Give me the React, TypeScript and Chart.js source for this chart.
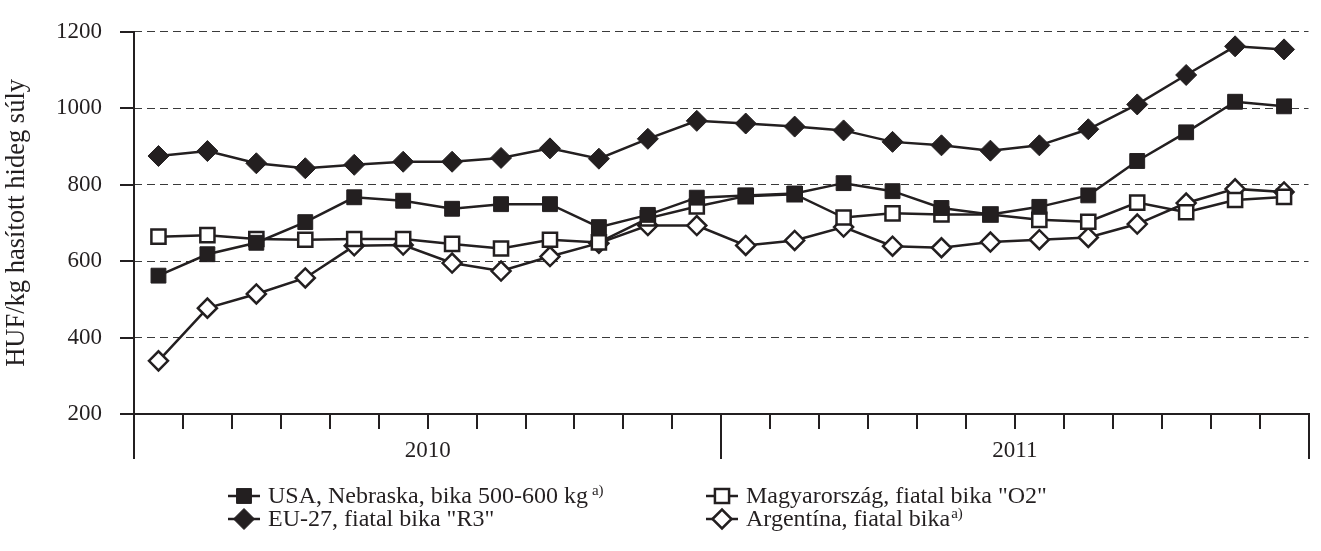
import React, { useEffect, useRef } from 'react';
import { Chart, registerables } from 'chart.js';

Chart.register(...registerables);

// ---------- data ----------
const years = ['2010', '2011'];
const months = ['I', 'II', 'III', 'IV', 'V', 'VI', 'VII', 'VIII', 'IX', 'X', 'XI', 'XII'];
const categories = years.flatMap((y) => months.map((m) => `${y}. ${m}.`));

const usaNebraska = [562, 618, 648, 702, 767, 758, 737, 749, 749, 689, 721, 766, 772, 777, 804, 783, 739, 722, 742, 772, 862, 937, 1017, 1005];
const eu27 = [875, 888, 856, 843, 852, 860, 860, 870, 895, 868, 920, 967, 960, 952, 942, 912, 903, 889, 903, 945, 1010, 1087, 1162, 1154];
const magyarorszag = [664, 668, 658, 656, 658, 658, 645, 633, 656, 649, 712, 743, 770, 775, 714, 725, 722, 722, 708, 703, 753, 728, 760, 768];
const argentina = [339, 477, 514, 556, 640, 642, 595, 574, 612, 647, 693, 693, 641, 654, 689, 639, 635, 650, 656, 662, 697, 752, 789, 781];

const seriesNames = [
  'USA, Nebraska, bika 500-600 kg',
  'EU-27, fiatal bika "R3"',
  'Magyarország, fiatal bika "O2"',
  'Argentína, fiatal bika',
];
const seriesSup = ['a)', '', '', 'a)'];

const yMin = 200;
const yMax = 1200;
const yStep = 200;
const yTitle = 'HUF/kg hasított hideg súly';

// ---------- style ----------
const INK = '#231f20';
const FONT_FAMILY = '"Liberation Serif", "Times New Roman", serif';
const tickFont = { family: FONT_FAMILY, size: 23 };
const titleFont = { family: FONT_FAMILY, size: 26.5 };

function drawMarker(ctx: CanvasRenderingContext2D, style: string, x: number, y: number, r: number, fill: string, bw: number) {
  ctx.beginPath();
  if (style === 'rect') {
    const s = Math.SQRT1_2 * r;
    ctx.rect(x - s, y - s, 2 * s, 2 * s);
  } else {
    ctx.moveTo(x - r, y);
    ctx.lineTo(x, y - r);
    ctx.lineTo(x + r, y);
    ctx.lineTo(x, y + r);
    ctx.closePath();
  }
  ctx.fillStyle = fill;
  ctx.fill();
  ctx.lineWidth = bw;
  ctx.strokeStyle = INK;
  ctx.stroke();
}

const legendPlugin = {
  id: 'bottomLegend',
  afterDraw(chart: any) {
    const ctx: CanvasRenderingContext2D = chart.ctx;
    const colX = [228, 706];
    const rowY = [496, 519];
    const place = [
      [0, 0],
      [0, 1],
      [1, 0],
      [1, 1],
    ];
    chart.data.datasets.forEach((ds: any, i: number) => {
      const [c, r] = place[i];
      const x0 = colX[c];
      const y = rowY[r];
      ctx.save();
      ctx.strokeStyle = INK;
      ctx.lineWidth = 2.5;
      ctx.beginPath();
      ctx.moveTo(x0, y);
      ctx.lineTo(x0 + 32, y);
      ctx.stroke();
      drawMarker(ctx, ds.pointStyle, x0 + 16, y, ds.pointRadius, ds.pointBackgroundColor, ds.pointBorderWidth);
      ctx.fillStyle = INK;
      ctx.textBaseline = 'middle';
      ctx.textAlign = 'left';
      ctx.font = `24px ${FONT_FAMILY}`;
      const tx = x0 + 40;
      ctx.fillText(ds.label, tx, y + 1);
      const w = ctx.measureText(ds.label).width;
      if (seriesSup[i]) {
        ctx.font = `15px ${FONT_FAMILY}`;
        ctx.fillText(seriesSup[i], tx + w + (i === 0 ? 4 : 1), y - 5);
      }
      ctx.restore();
    });
  },
};

export default function App() {
  const canvasRef = useRef<HTMLCanvasElement | null>(null);

  useEffect(() => {
    if (!canvasRef.current) return;
    const base = {
      borderColor: INK,
      borderWidth: 2.5,
      tension: 0,
      pointBorderColor: INK,
    };
    const chart = new Chart(canvasRef.current, {
      type: 'line',
      data: {
        labels: categories,
        datasets: [
          { ...base, label: seriesNames[0], data: usaNebraska, pointStyle: 'rect', pointRadius: 10.5, pointBackgroundColor: INK, pointBorderWidth: 1 },
          { ...base, label: seriesNames[1], data: eu27, pointStyle: 'rectRot', pointRadius: 10.5, pointBackgroundColor: INK, pointBorderWidth: 1 },
          { ...base, label: seriesNames[2], data: magyarorszag, pointStyle: 'rect', pointRadius: 10, pointBackgroundColor: '#ffffff', pointBorderWidth: 2.5 },
          { ...base, label: seriesNames[3], data: argentina, pointStyle: 'rectRot', pointRadius: 9.5, pointBackgroundColor: '#ffffff', pointBorderWidth: 2.5 },
        ],
      },
      options: {
        animation: false,
        responsive: true,
        maintainAspectRatio: false,
        events: [],
        layout: { padding: { top: 14, right: 5, left: 0, bottom: 0 } },
        plugins: {
          legend: { display: false },
          tooltip: { enabled: false },
          title: { display: false },
        },
        scales: {
          y: {
            position: 'left',
            min: yMin,
            max: yMax,
            ticks: { stepSize: yStep, font: tickFont, color: INK, padding: 18, callback: (v: any) => String(v) },
            grid: { drawOnChartArea: false, tickLength: 14, color: INK, lineWidth: 2 },
            border: { color: INK, width: 2 },
            title: { display: true, text: yTitle, font: titleFont, color: INK, padding: { top: 1, bottom: 0 } },
            afterFit: (s: any) => {
              s.width = 134;
            },
          },
          yGrid: {
            position: 'left',
            min: yMin,
            max: yMax,
            ticks: { display: false, stepSize: yStep },
            grid: {
              drawTicks: false,
              color: (c: any) => (c.tick && c.tick.value === yMin ? 'rgba(0,0,0,0)' : '#3a3a3a'),
              lineWidth: 1,
            },
            border: { display: false, dash: [8, 5] },
            afterFit: (s: any) => {
              s.width = 0;
            },
          },
          x: {
            type: 'category',
            position: 'bottom',
            weight: 0,
            offset: true,
            grid: { offset: true, drawOnChartArea: false, tickLength: 15, color: INK, lineWidth: 2 },
            border: { display: true, color: INK, width: 2 },
            ticks: { display: false },
            afterFit: (s: any) => {
              s.height = 0;
            },
          },
          xYear: {
            type: 'category',
            position: 'bottom',
            weight: 1,
            labels: years,
            offset: true,
            grid: { offset: true, drawOnChartArea: false, tickLength: 45, color: INK, lineWidth: 2 },
            border: { display: false },
            ticks: { font: tickFont, color: INK, padding: -22, maxRotation: 0, autoSkip: false },
            afterFit: (s: any) => {
              s.height = 137;
            },
          },
        },
      } as any,
      plugins: [legendPlugin],
    });
    return () => chart.destroy();
  }, []);

  return (
    <div style={{ position: 'absolute', left: 0, top: 0, width: 1321, height: 551 }}>
      <canvas ref={canvasRef} />
    </div>
  );
}
